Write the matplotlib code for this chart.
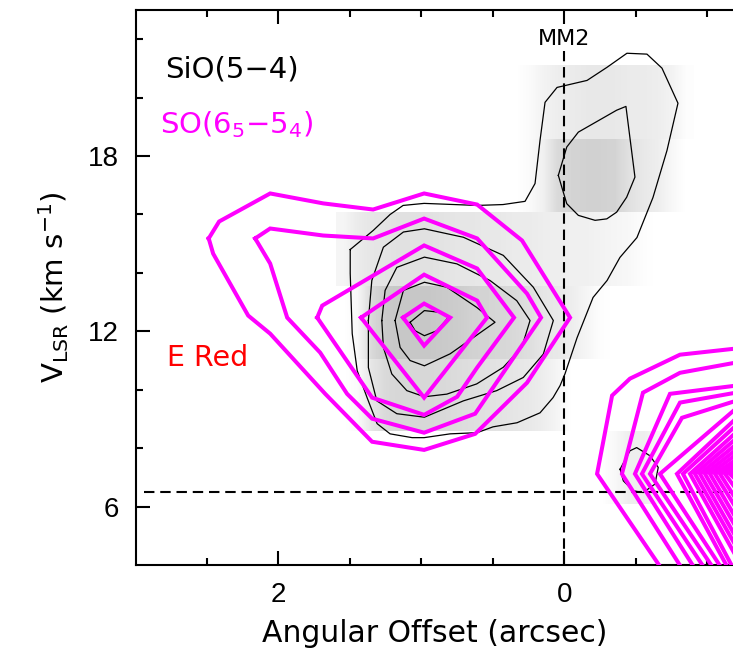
import matplotlib
matplotlib.use("Agg")
import matplotlib.pyplot as plt
import numpy as np

# ---------------- data ----------------
# SiO(5-4) grey-scale image: velocity channel edges (km/s) and offset column centres (arcsec)
row_edges = [6.1, 8.6, 11.05, 13.55, 16.1, 18.6, 21.1]
offset_cols = [1.55, 1.45, 1.35, 1.25, 1.15, 1.05, 0.95, 0.85, 0.75, 0.65, 0.55, 0.45,
               0.35, 0.25, 0.15, 0.05, -0.05, -0.15, -0.25, -0.35, -0.45, -0.55, -0.65, -0.75, -0.85]
sio_rows = [
    [0]*19 + [0.03, 0.07, 0.07, 0.03, 0, 0],
    [0, 0.02, 0.10, 0.15, 0.16, 0.16, 0.16, 0.15, 0.14, 0.13, 0.12, 0.11, 0.10, 0.09, 0.07, 0.04,
     0, 0, 0, 0, 0, 0, 0, 0, 0],
    [0, 0.03, 0.15, 0.21, 0.22, 0.22, 0.22, 0.21, 0.20, 0.18, 0.17, 0.16, 0.15, 0.13, 0.10, 0.09,
     0.07, 0.04, 0.01, 0, 0, 0, 0, 0, 0],
    [0.04, 0.08, 0.10, 0.11, 0.12, 0.12, 0.12, 0.11, 0.10, 0.10, 0.09, 0.09, 0.08, 0.08, 0.07, 0.07,
     0.06, 0.06, 0.05, 0.04, 0.03, 0.01, 0, 0, 0],
    [0]*12 + [0, 0.02, 0.06, 0.15, 0.17, 0.18, 0.18, 0.17, 0.12, 0.09, 0.07, 0.03, 0],
    [0]*12 + [0, 0.02, 0.05, 0.07, 0.08, 0.09, 0.09, 0.09, 0.08, 0.08, 0.07, 0.05, 0.01],
]

# SiO(5-4) contours (offset arcsec, velocity km/s)
sio_contours = [
    [(1.498, 14.80), (1.338, 15.45), (1.219, 16.00), (1.128, 16.31), (0.981, 16.38), (0.610, 16.31),
     (0.429, 16.34), (0.275, 16.45), (0.205, 17.06), (0.170, 18.54), (0.135, 19.84), (0.051, 20.35),
     (-0.159, 20.59), (-0.299, 21.04), (-0.438, 21.52), (-0.578, 21.49), (-0.683, 21.01),
     (-0.795, 19.81), (-0.718, 18.19), (-0.620, 16.58), (-0.508, 15.21), (-0.389, 14.53),
     (-0.299, 13.74), (-0.201, 13.16), (-0.089, 11.78), (-0.005, 10.55), (0.030, 10.14),
     (0.079, 9.73), (0.170, 9.21), (0.331, 8.87), (0.499, 8.73), (0.610, 8.53), (0.799, 8.49),
     (0.981, 8.36), (1.065, 8.36), (1.219, 8.49), (1.310, 8.84), (1.380, 9.73), (1.449, 10.65),
     (1.484, 11.92), (1.498, 13.98), (1.498, 14.80)],
    [(0.042, 17.34), (-0.017, 18.31), (-0.098, 18.82), (-0.366, 19.57), (-0.431, 19.70),
     (-0.494, 17.28), (-0.436, 16.59), (-0.366, 16.08), (-0.297, 15.85), (-0.215, 15.80),
     (-0.098, 15.97), (-0.017, 16.37), (0.018, 16.94), (0.042, 17.34)],
    [(1.371, 12.37), (1.347, 13.74), (1.266, 14.88), (1.126, 15.40), (0.979, 15.51), (0.706, 15.22),
     (0.427, 14.60), (0.217, 13.51), (0.077, 12.37), (0.147, 11.22), (0.287, 10.42), (0.473, 9.97),
     (0.706, 9.62), (0.979, 9.06), (1.172, 9.18), (1.312, 9.62), (1.371, 10.76), (1.371, 12.37)],
    [(1.277, 12.37), (1.254, 13.40), (1.172, 14.19), (0.979, 14.54), (0.752, 14.31), (0.520, 13.74),
     (0.333, 13.05), (0.240, 12.37), (0.298, 11.45), (0.427, 10.77), (0.613, 10.20), (0.822, 9.85),
     (0.979, 9.76), (1.102, 9.97), (1.207, 10.54), (1.266, 11.45), (1.277, 12.37)],
    [(1.184, 12.37), (1.126, 13.40), (0.979, 13.68), (0.822, 13.51), (0.613, 12.82), (0.485, 12.31),
     (0.636, 11.79), (0.799, 11.23), (0.979, 10.82), (1.079, 11.00), (1.149, 11.45), (1.184, 12.37)],
    [(1.079, 12.31), (0.979, 12.71), (0.869, 12.65), (0.811, 12.48), (0.892, 12.02), (0.979, 11.85),
     (1.044, 12.02), (1.079, 12.31)],
    [(-0.390, 7.28), (-0.459, 7.91), (-0.506, 8.02), (-0.599, 7.74), (-0.657, 7.34), (-0.634, 6.77),
     (-0.552, 6.48), (-0.483, 6.54), (-0.413, 6.88), (-0.390, 7.28)],
]

# SO(6_5-5_4) contours (offset arcsec, velocity km/s)
so_contours = [
    [(1.128, 12.47), (0.981, 12.95), (0.799, 12.47), (0.981, 11.51), (1.128, 12.47)],
    [(1.422, 12.47), (0.981, 13.94), (0.610, 13.05), (0.541, 12.47), (0.981, 9.73), (1.422, 12.47)],
    [(1.729, 12.47), (1.694, 12.88), (0.981, 14.94), (0.610, 14.15), (0.352, 12.47), (0.610, 10.76),
     (0.750, 9.76), (0.981, 9.14), (1.345, 9.73), (1.729, 12.47)],
    [(2.163, 15.18), (2.058, 15.52), (1.687, 15.28), (1.338, 15.18), (0.981, 15.86), (0.610, 15.18),
     (0.261, 13.29), (0.163, 12.47), (0.624, 9.18), (0.981, 8.53), (1.345, 9.01), (1.520, 9.86),
     (1.708, 11.27), (1.939, 12.47), (2.058, 14.32), (2.163, 15.18)],
    [(2.488, 15.18), (2.415, 15.76), (2.058, 16.72), (1.687, 16.38), (1.338, 16.17), (0.981, 16.72),
     (0.610, 16.34), (0.296, 15.11), (-0.040, 12.47), (0.261, 10.24), (0.624, 8.49), (0.981, 7.94),
     (1.345, 8.22), (1.673, 9.86), (2.058, 11.92), (2.212, 12.54), (2.457, 14.66), (2.488, 15.18)],
    # south-east (red) peak, partly outside the field
    [(-1.20, 11.41), (-0.809, 11.20), (-0.459, 10.38), (-0.334, 9.80), (-0.229, 7.12), (-0.739, 3.45)],
    [(-1.20, 10.93), (-0.809, 10.58), (-0.550, 9.90), (-0.403, 7.12), (-0.879, 3.45)],
    [(-1.20, 10.14), (-0.739, 9.86), (-0.494, 7.12), (-0.968, 3.45)],
    [(-1.20, 9.90), (-0.809, 9.56), (-0.543, 7.12), (-1.040, 3.45)],
    [(-1.20, 9.62), (-0.823, 9.04), (-0.599, 7.12), (-1.103, 3.45)],
    [(-1.20, 9.35), (-0.669, 7.12), (-1.159, 3.45)],
    [(-1.20, 9.01), (-0.788, 7.12), (-1.194, 3.45)],
    [(-1.20, 8.77), (-0.830, 7.12), (-1.229, 3.45)],
    [(-1.20, 8.53), (-0.879, 7.12), (-1.20, 4.31)],
    [(-1.20, 8.32), (-0.914, 7.12), (-1.20, 4.65)],
    [(-1.20, 8.12), (-0.949, 7.12), (-1.20, 4.96)],
    [(-1.20, 7.94), (-0.984, 7.12), (-1.20, 5.30)],
    [(-1.20, 7.77), (-1.019, 7.12), (-1.20, 5.61)],
    [(-1.20, 7.60), (-1.054, 7.12), (-1.20, 5.96)],
    [(-1.20, 7.46), (-1.089, 7.12), (-1.20, 6.26)],
    [(-1.20, 7.33), (-1.124, 7.12), (-1.20, 6.61)],
    [(-1.20, 7.22), (-1.159, 7.12), (-1.20, 6.92)],
]

v_systemic = 6.5
mm2_offset = 0.0

# ---------------- figure ----------------
fig = plt.figure(figsize=(7.33, 6.55), dpi=100)
ax = fig.add_axes([0.1849, 0.1374, 0.8151, 0.8473])

ext_left = offset_cols[0] + 0.05
ext_right = offset_cols[-1] - 0.05
for i, row in enumerate(sio_rows):
    ax.imshow(np.array([row]), cmap="gray_r", vmin=0, vmax=1, interpolation="bilinear",
              extent=(ext_left, ext_right, row_edges[i], row_edges[i + 1]),
              aspect="auto", zorder=1)

for c in sio_contours:
    xs, ys = zip(*c)
    ax.plot(xs, ys, color="black", lw=0.9, zorder=3)

ax.vlines(mm2_offset, 4.0, 21.6, colors="black", lw=1.5, linestyles=(0, (5, 2.8)), zorder=2)
ax.hlines(v_systemic, 2.94, -1.3, colors="black", lw=1.5, linestyles=(0, (5, 2.8)), zorder=2)

for c in so_contours:
    xs, ys = zip(*c)
    ax.plot(xs, ys, color="#ff00ff", lw=2.9, zorder=4, solid_joinstyle="miter")

ax.set_xlim(3.0, -1.18)
ax.set_ylim(4.0, 23.0)

ax.set_xticks([2, 0])
ax.set_xticks([2.5, 1.5, 1.0, 0.5, -0.5, -1.0], minor=True)
ax.set_yticks([6, 12, 18])
ax.set_yticks([8, 10, 14, 16, 20, 22], minor=True)
ax.tick_params(which="both", direction="in", top=True, right=False, width=1.5, labelsize=19)
ax.tick_params(which="major", length=10, pad=12)
ax.tick_params(which="minor", length=5)
for lab in ax.get_xticklabels() + ax.get_yticklabels():
    lab.set_family(["Liberation Sans", "DejaVu Sans"])
    lab.set_fontsize(20)
for s in ["left", "bottom", "top"]:
    ax.spines[s].set_linewidth(1.5)
ax.spines["right"].set_visible(False)

ax.set_xlabel("Angular Offset (arcsec)", fontsize=21.5, labelpad=8)
ax.set_ylabel(r"V$_{\rm LSR}$ (km s$^{-1}$)", fontsize=21, labelpad=12)

ax.text(0.049, 0.892, "SiO(5\u22124)", transform=ax.transAxes, fontsize=21, color="black",
        ha="left", va="center")
ax.text(0.041, 0.793, "SO(6$_{5}$\u22125$_{4}$)",
        transform=ax.transAxes, fontsize=21, color="#ff00ff", ha="left", va="center")
ax.text(0.052, 0.373, "E Red", transform=ax.transAxes, fontsize=20.5, color="red",
        ha="left", va="center")
ax.text(mm2_offset, 22.0, "MM2", fontsize=16, color="black", ha="center", va="center")

fig.savefig("out.png", dpi=100)
